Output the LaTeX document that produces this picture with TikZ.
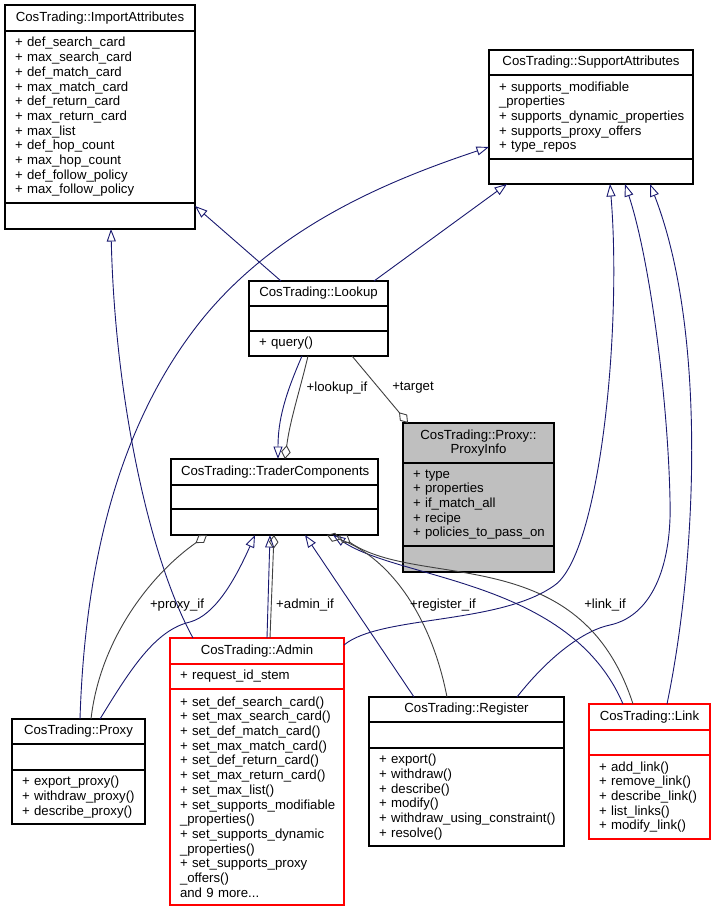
\documentclass[tikz,border=0pt]{standalone}
\usepackage{fontspec}
\setmainfont{Liberation Sans}
\usepackage{xcolor}
\usepackage{tikz}
\usetikzlibrary{arrows.meta,positioning}

\definecolor{dxblue}{HTML}{191970}
\definecolor{dxgray}{HTML}{404040}
\definecolor{dxfill}{HTML}{BFBFBF}
\hyphenpenalty=10000
\exhyphenpenalty=10000

\begin{document}
\begin{tikzpicture}[x=1pt,y=-1pt,line width=0.9pt,
    box/.style={draw,line width=1.1pt,fill=white,outer sep=0pt,inner xsep=10pt,inner ysep=1pt,
        text width=#1,font=\fontsize{13.2}{14.7}\selectfont},
    ttl/.style={align=center,minimum height=#1},
    cmp/.style={align=left,minimum height=#1},
    redbox/.style={draw=red},
    hl/.style={fill=dxfill},
    inh/.style={draw=dxblue,-{Triangle[open,length=12.5pt,width=9pt]}},
    mbr/.style={draw=dxgray,{Diamond[open,length=14pt,width=9.5pt]}-},
    lbl/.style={inner sep=0pt,font=\fontsize{13.2}{14.7}\selectfont}]

    % Page
    \fill[white] (0,0) rectangle (716,912);
    \useasboundingbox (0,0) rectangle (716,912);

    % ImportAttributes
    \node[box=170pt,ttl=26pt,anchor=north west] (imp) at (5,5) {CosTrading::ImportAttributes};
    \node[box=170pt,cmp=172pt,below=0pt of imp] (imp-a) {+~def\_search\_card\\+~max\_search\_card\\+~def\_match\_card\\+~max\_match\_card\\+~def\_return\_card\\+~max\_return\_card\\+~max\_list\\+~def\_hop\_count\\+~max\_hop\_count\\+~def\_follow\_policy\\+~max\_follow\_policy};
    \node[box=170pt,cmp=26pt,below=0pt of imp-a] (imp-m) {};

    % SupportAttributes
    \node[box=184pt,ttl=25pt,anchor=north west] (sup) at (489,50) {CosTrading::SupportAttributes};
    \node[box=184pt,cmp=84pt,below=0pt of sup] (sup-a) {+~supports\_modifiable\\\_properties\\+~supports\_dynamic\_properties\\+~supports\_proxy\_offers\\+~type\_repos};
    \node[box=184pt,cmp=25pt,below=0pt of sup-a] (sup-m) {};

    % Lookup
    \node[box=119pt,ttl=25pt,anchor=north west] (look) at (249,281) {CosTrading::Lookup};
    \node[box=119pt,cmp=25pt,below=0pt of look] (look-a) {};
    \node[box=119pt,cmp=25pt,below=0pt of look-a] (look-m) {+~query()};

    % ProxyInfo
    \node[box=131pt,hl,ttl=40pt,anchor=north west] (pinfo) at (403,423) {CosTrading::Proxy::\\ProxyInfo};
    \node[box=131pt,hl,cmp=83pt,below=0pt of pinfo] (pinfo-a) {+~type\\+~properties\\+~if\_match\_all\\+~recipe\\+~policies\_to\_pass\_on};
    \node[box=131pt,hl,cmp=26pt,below=0pt of pinfo-a] (pinfo-m) {};

    % TraderComponents
    \node[box=187pt,ttl=26pt,anchor=north west] (trc) at (171,459) {CosTrading::TraderComponents};
    \node[box=187pt,cmp=24pt,below=0pt of trc] (trc-a) {};
    \node[box=187pt,cmp=26pt,below=0pt of trc-a] (trc-m) {};

    % Proxy
    \node[box=113pt,ttl=25pt,anchor=north west] (proxy) at (12,719) {CosTrading::Proxy};
    \node[box=113pt,cmp=26pt,below=0pt of proxy] (proxy-a) {};
    \node[box=113pt,cmp=54pt,below=0pt of proxy-a] (proxy-m) {+~export\_proxy()\\+~withdraw\_proxy()\\+~describe\_proxy()};

    % Admin
    \node[box=154pt,redbox,ttl=26pt,anchor=north west] (admin) at (170,638) {CosTrading::Admin};
    \node[box=154pt,redbox,cmp=25pt,below=0pt of admin] (admin-a) {+~request\_id\_stem};
    \node[box=154pt,redbox,cmp=216pt,below=0pt of admin-a] (admin-m) {+~set\_def\_search\_card()\\+~set\_max\_search\_card()\\+~set\_def\_match\_card()\\+~set\_max\_match\_card()\\+~set\_def\_return\_card()\\+~set\_max\_return\_card()\\+~set\_max\_list()\\+~set\_supports\_modifiable\\\_properties()\\+~set\_supports\_dynamic\\\_properties()\\+~set\_supports\_proxy\\\_offers()\\and 9 more...};

    % Register
    \node[box=175pt,ttl=25pt,anchor=north west] (reg) at (369,697) {CosTrading::Register};
    \node[box=175pt,cmp=26pt,below=0pt of reg] (reg-a) {};
    \node[box=175pt,cmp=98pt,below=0pt of reg-a] (reg-m) {+~export()\\+~withdraw()\\+~describe()\\+~modify()\\+~withdraw\_using\_constraint()\\+~resolve()};

    % Link
    \node[box=101pt,redbox,ttl=26pt,anchor=north west] (link) at (589,704) {CosTrading::Link};
    \node[box=101pt,redbox,cmp=25pt,below=0pt of link] (link-a) {};
    \node[box=101pt,redbox,cmp=84pt,below=0pt of link-a] (link-m) {+~add\_link()\\+~remove\_link()\\+~describe\_link()\\+~list\_links()\\+~modify\_link()};

    % Inheritance
    \draw[inh] ([xshift=32pt]look.north west) -- ([yshift=-3pt]imp-m.north east);
    \draw[inh] ([xshift=125pt]look.north west) -- ([xshift=18pt]sup-m.south west);
    \draw[inh] ([xshift=68pt]proxy.north west) .. controls (85,560) and (120,420) .. (204,317)
        .. controls (280,225) and (390,180) .. ([yshift=12pt]sup-a.south west);
    \draw[inh] ([xshift=23pt]admin.north west) .. controls (150,560) and (115,400) .. ([xshift=106pt]imp-m.south west);
    \draw[inh] ([yshift=-7pt]admin.north east) .. controls (380,615) and (500,625) .. (555,585)
        .. controls (600,552) and (622,330) .. ([xshift=121pt]sup-m.south west);
    \draw[inh] ([xshift=148pt]reg.north west) .. controls (550,655) and (585,630) .. (610,625)
        .. controls (655,615) and (672,560) .. (670,500)
        .. controls (668,400) and (650,260) .. ([xshift=136pt]sup-m.south west);
    \draw[inh] ([xshift=78pt]link.north west) .. controls (697,560) and (707,330) .. ([xshift=161pt]sup-m.south west);
    \draw[inh] ([xshift=53pt]look-m.south west) .. controls (285,395) and (278,420) .. ([xshift=107pt]trc.north west);
    \draw[inh] ([xshift=88pt]proxy.north west) .. controls (130,670) and (155,630) .. (190,622)
        .. controls (215,615) and (235,580) .. ([xshift=84pt]trc-m.south west);
    \draw[inh] ([xshift=97pt]admin.north west) -- ([xshift=99pt]trc-m.south west);
    \draw[inh] ([xshift=45pt]reg.north west) -- ([xshift=134pt]trc-m.south west);
    \draw[inh] ([xshift=34pt]link.north west) .. controls (570,580) and (400,580) .. ([xshift=162pt]trc-m.south west);

    % Members
    \draw[mbr] ([xshift=114pt]trc.north west) .. controls (290,420) and (300,390) .. ([xshift=59pt]look-m.south west);
    \draw[mbr] ([xshift=5pt]pinfo.north west) -- ([xshift=103pt]look-m.south west);
    \draw[mbr] ([xshift=36pt]trc-m.south west) .. controls (150,575) and (100,640) .. ([xshift=79pt]proxy.north west);
    \draw[mbr] ([xshift=103pt]trc-m.south west) -- ([xshift=100pt]admin.north west);
    \draw[mbr] ([xshift=156pt]trc-m.south west) .. controls (385,555) and (430,610) .. ([xshift=78pt]reg.north west);
    \draw[mbr] ([xshift=168pt]trc-m.south west) .. controls (420,590) and (580,540) .. ([xshift=44pt]link.north west);

    % Member labels
    \node[lbl] (lookup-if) at (337,388) {+lookup\_if};
    \node[lbl] (target) at (413,388) {+target};
    \node[lbl] (proxy-if) at (177,605) {+proxy\_if};
    \node[lbl] (admin-if) at (305,605) {+admin\_if};
    \node[lbl] (register-if) at (443,605) {+register\_if};
    \node[lbl] (link-if) at (605,605) {+link\_if};
\end{tikzpicture}
\end{document}
